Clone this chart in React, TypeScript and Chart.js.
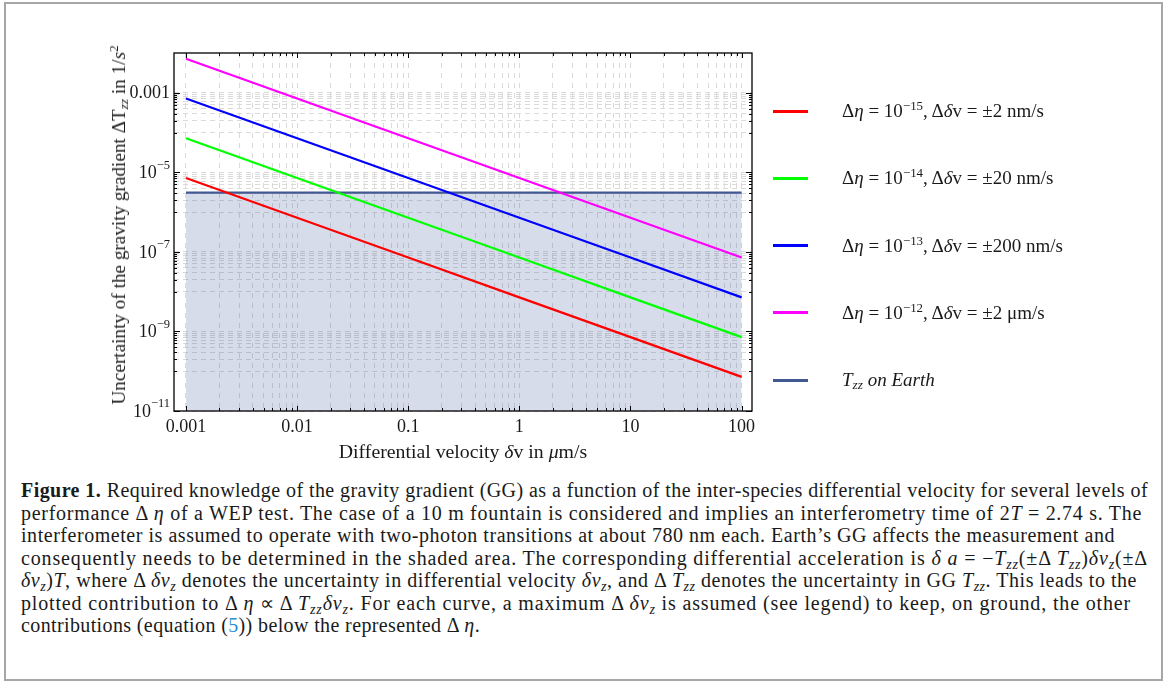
import React, { useEffect, useLayoutEffect, useRef } from 'react';
import { Chart, registerables } from 'chart.js';
Chart.register(...registerables);

// ---- data ----
const velocities = [0.001, 0.01, 0.1, 1, 10, 100]; // µm/s
const etaMinus15 = [7.2e-6, 7.2e-7, 7.2e-8, 7.2e-9, 7.2e-10, 7.2e-11];
const etaMinus14 = [7.2e-5, 7.2e-6, 7.2e-7, 7.2e-8, 7.2e-9, 7.2e-10];
const etaMinus13 = [7.2e-4, 7.2e-5, 7.2e-6, 7.2e-7, 7.2e-8, 7.2e-9];
const etaMinus12 = [7.2e-3, 7.2e-4, 7.2e-5, 7.2e-6, 7.2e-7, 7.2e-8];
const earthX = [0.001, 100];
const earthTzz = [3.1e-6, 3.1e-6];

const seriesEtaExp = ['−15', '−14', '−13', '−12'];
const seriesDeltaV = ['±2 nm/s', '±20 nm/s', '±200 nm/s', '±2 μm/s'];
const seriesColors = ['#ff0000', '#00ff00', '#0000ff', '#ff00ff'];
const earthColor = 'rgb(66,88,145)';

const xMajorTicks = [0.001, 0.01, 0.1, 1, 10, 100];
const xTickLabels = ['0.001', '0.01', '0.1', '1', '10', '100'];
const xMinorMultipliers = [2, 3, 4, 5, 6, 7, 8, 9];
const yMajorTicks = [1e-11, 1e-9, 1e-7, 1e-5, 1e-3];
const yTickLabels = [
  { base: '10', exp: '−11' },
  { base: '10', exp: '−9' },
  { base: '10', exp: '−7' },
  { base: '10', exp: '−5' },
  { base: '0.001', exp: '' },
];
const yMinorMultipliers = [0.1, 0.2, 0.3, 0.4, 0.5, 0.6, 0.7, 0.8, 0.9];

const X_MIN = 0.00078;
const X_MAX = 124;
const Y_MIN = 1e-11;
const Y_MAX = 1e-2;

const xTickValues: { value: number; major: boolean }[] = [];
xMajorTicks.forEach((m, i) => {
  xTickValues.push({ value: m, major: true });
  if (i < xMajorTicks.length - 1) xMinorMultipliers.forEach((k) => xTickValues.push({ value: m * k, major: false }));
});
const yTickValues: { value: number; major: boolean }[] = [];
yMajorTicks.forEach((m) => {
  yTickValues.push({ value: m, major: true });
  yMinorMultipliers.forEach((k) => {
    const v = m * k;
    if (v > Y_MIN * 1.0001) yTickValues.push({ value: v, major: false });
  });
});
yTickValues.sort((a, b) => a.value - b.value);
xTickValues.sort((a, b) => a.value - b.value);

const SERIF = '"Liberation Serif", "Times New Roman", serif';
const GRID = '#dadada';

const framePlugin = {
  id: 'frameTicks',
  afterDatasetsDraw(chart: any) {
    const { ctx, chartArea } = chart;
    const { left, right, top, bottom } = chartArea;
    const xs = chart.scales.x;
    const ys = chart.scales.y;
    ctx.save();
    ctx.strokeStyle = '#000';
    ctx.lineWidth = 1.3;
    ctx.strokeRect(left, top, right - left, bottom - top);
    ctx.lineWidth = 1;
    ctx.beginPath();
    xs.ticks.forEach((t: any) => {
      const px = Math.round(xs.getPixelForValue(t.value)) + 0.5;
      const len = t.major ? 5 : 3;
      ctx.moveTo(px, bottom);
      ctx.lineTo(px, bottom - len);
      ctx.moveTo(px, top);
      ctx.lineTo(px, top + len);
    });
    ys.ticks.forEach((t: any) => {
      const py = Math.round(ys.getPixelForValue(t.value)) + 0.5;
      const len = t.major ? 6 : 3;
      ctx.moveTo(left, py);
      ctx.lineTo(left + len, py);
      ctx.moveTo(right, py);
      ctx.lineTo(right - len, py);
    });
    ctx.stroke();
    // y tick labels with superscripts
    ctx.fillStyle = '#1a1a1a';
    ctx.textBaseline = 'middle';
    ctx.textAlign = 'right';
    yMajorTicks.forEach((v, i) => {
      const py = ys.getPixelForValue(v);
      const lab = yTickLabels[i];
      const xr = left - 4;
      if (lab.exp) {
        ctx.font = `12.5px ${SERIF}`;
        const ew = ctx.measureText(lab.exp).width;
        ctx.fillText(lab.exp, xr, py - 7);
        ctx.font = `18px ${SERIF}`;
        ctx.fillText(lab.base, xr - ew, py + 1);
      } else {
        ctx.font = `18px ${SERIF}`;
        ctx.fillText(lab.base, xr, py);
      }
    });
    ctx.restore();
  },
};

function ChartCanvas() {
  const ref = useRef<HTMLCanvasElement | null>(null);
  useEffect(() => {
    if (!ref.current) return;
    const toPts = (ys: number[]) => velocities.map((x, i) => ({ x, y: ys[i] }));
    const series = [etaMinus15, etaMinus14, etaMinus13, etaMinus12];
    const datasets: any[] = series.map((s, i) => ({
      label: `Δη = 10^${seriesEtaExp[i]}, Δδv = ${seriesDeltaV[i]}`,
      data: toPts(s),
      borderColor: seriesColors[i],
      borderWidth: 2.2,
      pointRadius: 0,
      fill: false,
      order: 1,
    }));
    datasets.push({
      label: 'Tzz on Earth',
      data: earthX.map((x, i) => ({ x, y: earthTzz[i] })),
      borderColor: earthColor,
      backgroundColor: 'rgba(55,80,155,0.2)',
      borderWidth: 2.2,
      pointRadius: 0,
      fill: 'start',
      order: 2,
    });
    const chart = new Chart(ref.current, {
      type: 'line',
      data: { datasets },
      options: {
        animation: false,
        responsive: false,
        maintainAspectRatio: false,
        layout: { padding: { left: 174, right: 413, top: 53, bottom: 0 } },
        plugins: { legend: { display: false }, tooltip: { enabled: false }, title: { display: false } },
        scales: {
          x: {
            type: 'logarithmic',
            min: X_MIN,
            max: X_MAX,
            afterBuildTicks: (s: any) => {
              s.ticks = xTickValues.map((t) => ({ value: t.value, major: t.major }));
            },
            afterFit: (s: any) => {
              s.height = 59;
            },
            ticks: {
              autoSkip: false,
              maxRotation: 0,
              minRotation: 0,
              padding: 5,
              color: '#1a1a1a',
              font: { family: SERIF, size: 18 },
              callback: (v: any) => {
                const idx = xMajorTicks.findIndex((m) => Math.abs(m - Number(v)) / m < 1e-6);
                return idx >= 0 ? xTickLabels[idx] : '';
              },
            },
            grid: { color: GRID, lineWidth: 1, drawTicks: false },
            border: { display: false, dash: [5, 5] },
          },
          y: {
            type: 'logarithmic',
            min: Y_MIN,
            max: Y_MAX,
            afterBuildTicks: (s: any) => {
              s.ticks = yTickValues.map((t) => ({ value: t.value, major: t.major }));
            },
            afterFit: (s: any) => {
              s.width = 0;
            },
            ticks: { display: false },
            grid: { color: GRID, lineWidth: 1, drawTicks: false },
            border: { display: false, dash: [5, 4] },
          },
        },
      } as any,
      plugins: [framePlugin],
    });
    return () => chart.destroy();
  }, []);
  return <canvas ref={ref} width={1165} height={470} style={{ position: 'absolute', left: 0, top: 0, width: 1165, height: 470 }} />;
}

const legendTop = 111;
const legendStep = 67.3;
const captionLeft = 21;
const captionLineEnds = [1148, 1142, 1115, 1148, 1137, 1131, 480];

export default function App() {
  const lineRefs = useRef<(HTMLSpanElement | null)[]>([]);
  const fit = () => {
    lineRefs.current.forEach((el, i) => {
      if (!el) return;
      el.style.letterSpacing = '0px';
      const w = el.getBoundingClientRect().width;
      const n = (el.textContent || '').length;
      const target = captionLineEnds[i] - captionLeft;
      if (n > 0) el.style.letterSpacing = `${(target - w) / n}px`;
    });
  };
  useLayoutEffect(() => {
    fit();
    if ((document as any).fonts && (document as any).fonts.ready) (document as any).fonts.ready.then(fit);
  }, []);
  const captionLines: React.ReactNode[] = [
    <>
      <b>Figure 1.</b> Required knowledge of the gravity gradient (GG) as a function of the inter-species differential velocity for several levels of
    </>,
    <>
      performance Δ <i>η</i> of a WEP test. The case of a 10&nbsp;m fountain is considered and implies an interferometry time of 2<i>T</i> = 2.74&nbsp;s. The
    </>,
    <>interferometer is assumed to operate with two-photon transitions at about 780&nbsp;nm each. Earth’s GG affects the measurement and</>,
    <>
      consequently needs to be determined in the shaded area. The corresponding differential acceleration is <i>δ a</i> = −<i>T</i>
      <sub><i>zz</i></sub>(±Δ <i>T</i>
      <sub><i>zz</i></sub>)<i>δv</i>
      <sub><i>z</i></sub>(±Δ
    </>,
    <>
      <i>δv</i>
      <sub><i>z</i></sub>)<i>T</i>, where Δ <i>δv</i>
      <sub><i>z</i></sub> denotes the uncertainty in differential velocity <i>δv</i>
      <sub><i>z</i></sub>, and Δ <i>T</i>
      <sub><i>zz</i></sub> denotes the uncertainty in GG <i>T</i>
      <sub><i>zz</i></sub>. This leads to the
    </>,
    <>
      plotted contribution to Δ <i>η</i> ∝ Δ <i>T</i>
      <sub><i>zz</i></sub>
      <i>δv</i>
      <sub><i>z</i></sub>. For each curve, a maximum Δ <i>δv</i>
      <sub><i>z</i></sub> is assumed (see legend) to keep, on ground, the other
    </>,
    <>
      contributions (equation (<span style={{ color: '#2b8ccf' }}>5</span>)) below the represented Δ <i>η</i>.
    </>,
  ];
  const css = `sub{font-size:0.7em;line-height:0;vertical-align:-0.25em}sup{font-size:0.68em;line-height:0;vertical-align:0.55em}`;
  return (
    <div style={{ position: 'absolute', left: 0, top: 0, width: 1165, height: 682, overflow: 'hidden', background: '#fff', fontFamily: SERIF, color: '#1a1a1a' }}>
      <style>{css}</style>
      <div style={{ position: 'absolute', left: 4, top: 2, width: 1155, height: 675, border: '2px solid #a6a6a6' }} />
      <ChartCanvas />
      {/* axis titles */}
      <div
        style={{
          position: 'absolute',
          left: 119,
          top: 225,
          transform: 'translate(-50%, -50%) rotate(-90deg)',
          whiteSpace: 'nowrap',
          fontSize: 19.2,
        }}
      >
        Uncertainty of the gravity gradient ΔT<sub><i>zz</i></sub> in 1/<i>s</i>
        <sup>2</sup>
      </div>
      <div style={{ position: 'absolute', left: 463, top: 451, transform: 'translate(-50%, -50%)', whiteSpace: 'nowrap', fontSize: 19.8 }}>
        Differential velocity <i>δ</i>v in <i>μ</i>m/s
      </div>
      {/* legend */}
      {seriesColors.map((c, i) => (
        <React.Fragment key={i}>
          <div style={{ position: 'absolute', left: 773, top: legendTop + i * legendStep - 1.5, width: 35, height: 3, background: c }} />
          <div style={{ position: 'absolute', left: 842, top: legendTop + i * legendStep, transform: 'translateY(-50%)', whiteSpace: 'nowrap', fontSize: 19 }}>
            Δ<i>η</i> = 10<sup>{seriesEtaExp[i]}</sup>, Δ<i>δ</i>v = {seriesDeltaV[i]}
          </div>
        </React.Fragment>
      ))}
      <div style={{ position: 'absolute', left: 773, top: legendTop + 4 * legendStep - 1.5, width: 35, height: 3, background: earthColor }} />
      <div style={{ position: 'absolute', left: 842, top: legendTop + 4 * legendStep, transform: 'translateY(-50%)', whiteSpace: 'nowrap', fontSize: 19 }}>
        <i>
          T<sub>zz</sub> on Earth
        </i>
      </div>
      {/* caption */}
      <div style={{ position: 'absolute', left: captionLeft, top: 479, fontSize: 20, lineHeight: '22.5px', whiteSpace: 'nowrap' }}>
        {captionLines.map((l, i) => (
          <div key={i}>
            <span ref={(el) => { lineRefs.current[i] = el; }} style={{ display: 'inline-block' }}>
              {l}
            </span>
          </div>
        ))}
      </div>
    </div>
  );
}
